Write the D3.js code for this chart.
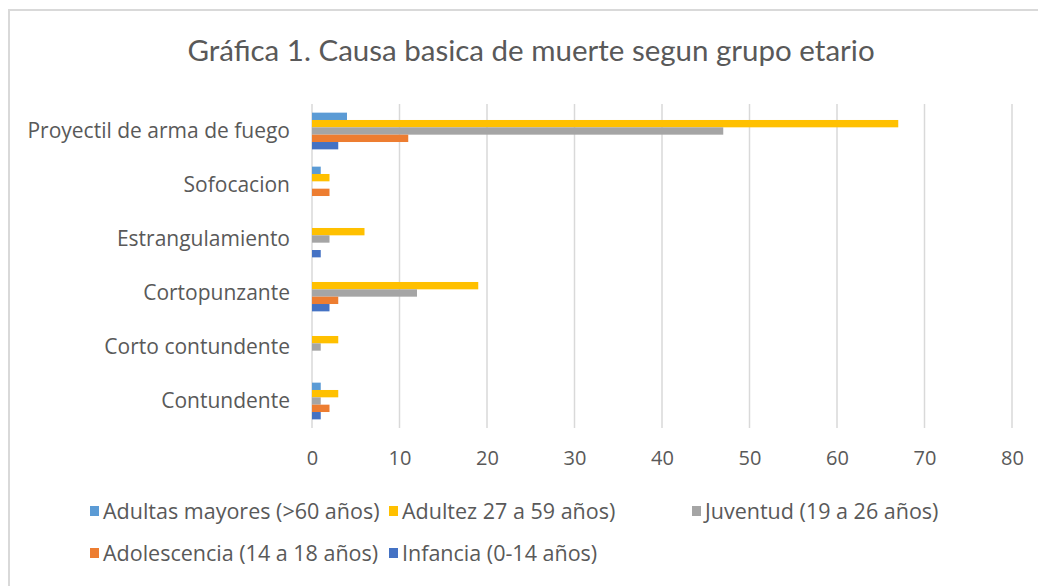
<!DOCTYPE html>
<html>
<head>
<meta charset="utf-8">
<script src="https://cdn.jsdelivr.net/npm/d3@7"></script>
<style>
  body { margin: 0; background: #fff; }
  text { fill: #595959; }
</style>
</head>
<body>
<svg id="chart" width="1038" height="586"></svg>
<script>
var categories = ["Proyectil de arma de fuego", "Sofocacion", "Estrangulamiento", "Cortopunzante", "Corto contundente", "Contundente"];
var seriesNames = ["Adultas mayores (>60 años)", "Adultez 27 a 59 años)", "Juventud (19 a 26 años)", "Adolescencia (14 a 18 años)", "Infancia (0-14 años)"];
var seriesColors = ["#5b9bd5", "#ffc000", "#a5a5a5", "#ed7d31", "#4472c4"];
// values per series, in the order of categories
var adultasMayores = [4, 1, 0, 0, 0, 1];
var adultez = [67, 2, 6, 19, 3, 3];
var juventud = [47, 0, 2, 12, 1, 1];
var adolescencia = [11, 2, 0, 3, 0, 2];
var infancia = [3, 0, 1, 2, 0, 1];
var xTicks = [0, 10, 20, 30, 40, 50, 60, 70, 80];

var seriesValues = [adultasMayores, adultez, juventud, adolescencia, infancia];

(function() {
  var svg = d3.select("#chart");

  // frame (only top and left edges show in the picture)
  svg.append("path")
     .attr("d", "M9,1000 V10 H1100")
     .attr("fill", "none")
     .attr("stroke", "#d9d9d9")
     .attr("stroke-width", 2);

  svg.append("text")
     .attr("x", 531)
     .attr("y", 61)
     .attr("text-anchor", "middle")
     .style("font-family", "Lato, sans-serif")
     .style("font-size", "29.5px")
     .text("Gráfica 1. Causa basica de muerte segun grupo etario");

  var plotLeft = 312, plotRight = 1012, plotTop = 104, plotBottom = 428;

  var x = d3.scaleLinear().domain([0, 80]).range([plotLeft, plotRight]);
  var y = d3.scaleBand().domain(categories).range([plotTop, plotBottom]).paddingInner(0.32).paddingOuter(0.16);
  var ySub = d3.scaleBand().domain(d3.range(seriesNames.length)).range([0, y.bandwidth()]);

  // gridlines
  svg.append("g").selectAll("line")
     .data(xTicks)
     .enter()
     .append("line")
     .attr("x1", function(d) { return x(d); })
     .attr("x2", function(d) { return x(d); })
     .attr("y1", plotTop)
     .attr("y2", plotBottom)
     .attr("stroke", "#d9d9d9")
     .attr("stroke-width", 1.5);

  // x axis labels
  var gx = svg.append("g")
     .attr("transform", "translate(0,465)")
     .call(d3.axisBottom(x).tickValues(xTicks).tickSize(0).tickPadding(0));
  gx.select(".domain").remove();
  gx.selectAll("text")
    .attr("dy", 0)
    .style("fill", "#595959")
    .style("font-family", "'Open Sans', sans-serif")
    .style("font-size", "20px");

  // category labels
  var gy = svg.append("g")
     .attr("transform", "translate(290,0)")
     .call(d3.axisLeft(y).tickSize(0).tickPadding(0));
  gy.select(".domain").remove();
  gy.selectAll("text")
    .attr("dy", "0.35em")
    .style("fill", "#595959")
    .style("font-family", "'Open Sans', sans-serif")
    .style("font-size", "21px");

  // bars
  var rows = [];
  categories.forEach(function(c, ci) {
    seriesValues.forEach(function(vals, si) {
      rows.push({ cat: c, s: si, v: vals[ci] });
    });
  });

  svg.append("g").selectAll("rect")
     .data(rows)
     .enter()
     .append("rect")
     .attr("x", x(0))
     .attr("y", function(d) { return y(d.cat) + ySub(d.s); })
     .attr("width", function(d) { return x(d.v) - x(0); })
     .attr("height", ySub.bandwidth())
     .attr("fill", function(d) { return seriesColors[d.s]; });

  // legend
  var legendPos = [[90, 511], [389, 511], [692, 511], [90, 553], [389, 553]];
  var legend = svg.append("g").selectAll("g")
     .data(seriesNames)
     .enter()
     .append("g")
     .attr("transform", function(d, i) { return "translate(" + legendPos[i][0] + "," + legendPos[i][1] + ")"; });

  legend.append("rect")
        .attr("x", 0)
        .attr("y", -5)
        .attr("width", 9)
        .attr("height", 10)
        .attr("fill", function(d, i) { return seriesColors[i]; });

  legend.append("text")
        .attr("x", 13)
        .attr("dy", "0.35em")
        .style("font-family", "'Open Sans', sans-serif")
        .style("font-size", "21.5px")
        .text(function(d) { return d; });
})();
</script>
</body>
</html>
